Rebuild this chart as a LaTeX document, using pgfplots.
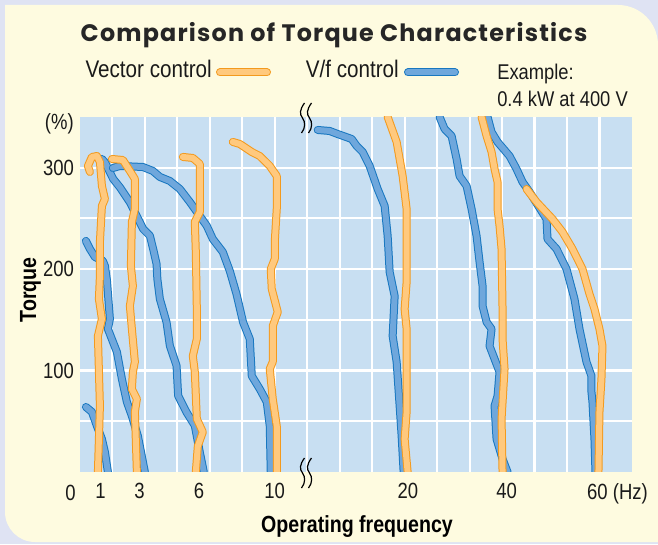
\documentclass[border=0pt]{standalone}
\usepackage{pgfplots}
\pgfplotsset{compat=1.18}
\usepackage{fontspec}
\setmainfont{Liberation Sans}
\newfontfamily\condfont[FakeStretch=0.84]{Liberation Sans}
\newfontfamily\legfont[FakeStretch=0.86]{Liberation Sans}
\newfontfamily\titlefont[LetterSpace=5]{Poppins}
\definecolor{outerbg}{HTML}{DFE3F3}
\definecolor{panel}{HTML}{FEFBE0}
\definecolor{plotbg}{HTML}{C8DFF2}
\definecolor{bluein}{HTML}{6FA7DC}
\definecolor{blueout}{HTML}{1877C0}
\definecolor{orangein}{HTML}{FFC97E}
\definecolor{orangeout}{HTML}{F39A1E}
\definecolor{txt}{HTML}{1A1A1A}
\tikzset{
  vfline/.style={draw=blueout, double=bluein, double distance=4.5pt, line width=0.75pt, line cap=round, line join=round},
  vecline/.style={draw=orangeout, double=orangein, double distance=4.5pt, line width=0.75pt, line cap=round, line join=round},
  brk/.style={black, line width=0.9pt}
}
\begin{document}
\begin{tikzpicture}[x=0.75pt,y=0.75pt]
\path[use as bounding box, fill=outerbg] (0,0) rectangle (658,544);
\fill[panel] (5,539) -- (618,539) arc[start angle=90,end angle=0,radius=40] -- (658,2) -- (35,2) arc[start angle=270,end angle=180,radius=30] -- cycle;
\begin{axis}[
  at={(80,71)}, anchor=south west,
  scale only axis, width=414pt, height=266.25pt,
  xmin=80, xmax=632.5, ymin=0, ymax=350,
  axis line style={draw=none},
  axis background/.style={fill=plotbg},
  xtick={112.5,145,177.5,210,242.5,275,307.5,340,372.5,405,437.5,470,502.5,535,567.5,600},
  xticklabels={},
  ytick={50,100,150,200,250,300},
  yticklabels={,100,,200,,300},
  major tick length=0pt,
  grid=major, major grid style={white, line width=1.6pt},
  extra x ticks={100.7,139.7,199.3,274.9,408.3,507,598},
  extra x tick labels={1,3,6,10,20,40,60\rlap{ (Hz)}},
  extra x tick style={grid=none, major tick length=0pt, xticklabel style={yshift=-5pt}},
  /pgf/number format/assume math mode=true,
  ticklabel style={font=\condfont\fontsize{16.5}{16.5}\selectfont, text=txt},
  yticklabel style={xshift=-1pt},
]
% ---- V/f control (blue)
\addplot[vfline] coordinates {(86,64.1) (92,59.2) (97,45.4) (102,32.5) (105,19.7) (108,0)};
\addplot[vfline] coordinates {(86,227.8) (90,219.9) (95,212.0) (103,208.1) (105,203.1) (107,189.3) (110,150.8) (108,141.0) (117,118.3) (122,91.7) (127,69.0) (132,55.2) (138,35.5) (145,0)};
\addplot[vfline] coordinates {(102,308.6) (105,305.4) (113.3,288.9) (120,280.7) (130,265.9) (138.3,249.5) (143.3,239.6) (150,233.0) (153.3,219.9) (156.7,205.1) (157.5,190.3) (160,170.6) (166.7,147.6) (170,124.5) (176.7,104.8) (178.3,75.2) (186.7,58.9) (195,45.7) (200,19.4) (204,0)};
\addplot[vfline] coordinates {(113,299.7) (120,301.7) (143,300.7) (153,296.8) (160,290.9) (170,286.9) (180,279.0) (190,266.2) (200,252.4) (207,242.6) (213,229.7) (223,216.9) (230,198.2) (236.7,175.5) (243.3,147.6) (250,131.1) (252,94.7) (260,81.8) (267,69.0) (270,45.4) (271,0)};
\addplot[vfline] coordinates {(318,337.2) (330,336.2) (338,333.2) (352,328.3) (357,321.4) (363,315.5) (370,301.7) (378,279.0) (385,262.3) (388,232.7) (390,197.2) (395,173.5) (393,134.1) (397,108.5) (400,65.1) (402,35.5) (404,0)};
\addplot[vfline] coordinates {(440,350) (445,338.2) (452,331.3) (457,308.6) (460,291.8) (467,282.0) (472,259.3) (477,232.7) (480,207.0) (483,183.4) (483,163.7) (487,147.9) (492,141.0) (490,124.2) (495,111.4) (500,98.6) (498,74.9) (495,65.1) (497,32.5) (503,12.8) (508,0)};
\addplot[vfline] coordinates {(488,350) (492,335.2) (498,325.4) (510,311.5) (517,298.7) (523,285.9) (530,276.1) (547,249.4) (548,229.7) (557,219.9) (567,200.1) (575,170.6) (580,141.0) (587,108.5) (592,94.6) (592,78.9) (593,69.0) (595,32.5) (596,0)};
% ---- Vector control (orange)
\addplot[vecline] coordinates {(90,295.8) (88,301.7) (92,310.6) (97,311.5) (100,305.6) (102,282.0) (105,269.2) (102,262.3) (100,226.8) (100,193.2) (99,170.6) (102,150.8) (98,134.1) (100,65.1) (98,0)};
\addplot[vecline] coordinates {(112,308.6) (123,307.6) (130,296.8) (135,288.9) (135,259.3) (132,246.5) (131,203.1) (133,183.4) (130,163.7) (132,141.0) (135,108.5) (133,98.6) (132,81.8) (137,72.0) (135,59.2) (137,0)};
\addplot[vecline] coordinates {(183,310.6) (193,309.6) (200,303.7) (200,256.3) (195,246.5) (196,216.9) (197,160.7) (197,131.1) (193,114.4) (195,98.6) (197,52.3) (203,39.4) (198,25.6) (196,0)};
\addplot[vecline] coordinates {(233,325.4) (240,323.4) (252,315.5) (260,311.5) (270,301.7) (277,291.8) (277,259.3) (275,226.8) (275,210.0) (271,200.1) (272,180.4) (278,157.7) (273,143.9) (273,108.5) (270,101.6) (273,72.0) (277,45.4) (277,0)};
\addplot[vecline] coordinates {(388,350) (397,325.4) (403,291.8) (407,259.3) (407,226.8) (407,187.3) (405,160.7) (407,141.0) (407,59.2) (405,32.5) (408,0)};
\addplot[vecline] coordinates {(482,350) (487,331.3) (492,315.5) (495,298.7) (498,285.9) (498,259.3) (500,242.5) (502,219.9) (503,160.7) (503,131.1) (505,101.6) (502,52.3) (503,0)};
\addplot[vecline] coordinates {(527,279.0) (537,266.2) (553,249.4) (563,236.6) (573,219.9) (583,200.1) (590,175.5) (595,160.7) (600,141.0) (603,124.2) (602,91.7) (600,59.2) (599,0)};
\end{axis}
% break marks
\foreach \bx in {302.5,309.5}{
  \draw[brk] (\bx+2,441) .. controls (\bx-3,434) and (\bx-3,430) .. (\bx,426) .. controls (\bx+3,422) and (\bx+3,416) .. (\bx-1,411);
  \draw[brk] (\bx+2,86) .. controls (\bx-3,79) and (\bx-3,75) .. (\bx,71) .. controls (\bx+3,67) and (\bx+3,61) .. (\bx-1,56);
}
% title
\node[anchor=base, text=black!85, inner sep=0pt] at (334,502) {\resizebox{380pt}{!}{\titlefont\bfseries Comparison of Torque Characteristics}};
% legend
\node[anchor=base east, inner sep=0pt, text=txt, font=\legfont\fontsize{18}{18}\selectfont] at (212,466) {Vector control};
\draw[vecline] (220,471.5) -- (267,471.5);
\node[anchor=base east, inner sep=0pt, text=txt, font=\legfont\fontsize{18}{18}\selectfont] at (399,466) {V/f control};
\draw[vfline] (408,471.5) -- (455,471.5);
\node[anchor=base west, inner sep=0pt, text=txt, font=\legfont\fontsize{16}{16}\selectfont] at (497,464) {Example:};
\node[anchor=base west, inner sep=0pt, text=txt, font=\legfont\fontsize{16}{16}\selectfont] at (497,437) {0.4 kW at 400 V};
% axis texts
\node[anchor=base east, inner sep=0pt, text=txt, font=\condfont\fontsize{16.5}{16.5}\selectfont] at (74,414) {(\%)};
\node[anchor=base, inner sep=0pt, text=txt, font=\condfont\fontsize{16.5}{16.5}\selectfont] at (70.5,44) {0};
\node[anchor=base, inner sep=0pt, text=black, font=\condfont\bfseries\fontsize{17.5}{17.5}\selectfont] at (357,12) {Operating frequency};
\node[anchor=base, rotate=90, inner sep=0pt, text=black, font=\condfont\bfseries\fontsize{17.5}{17.5}\selectfont] at (36,254) {Torque};
\end{tikzpicture}
\end{document}
